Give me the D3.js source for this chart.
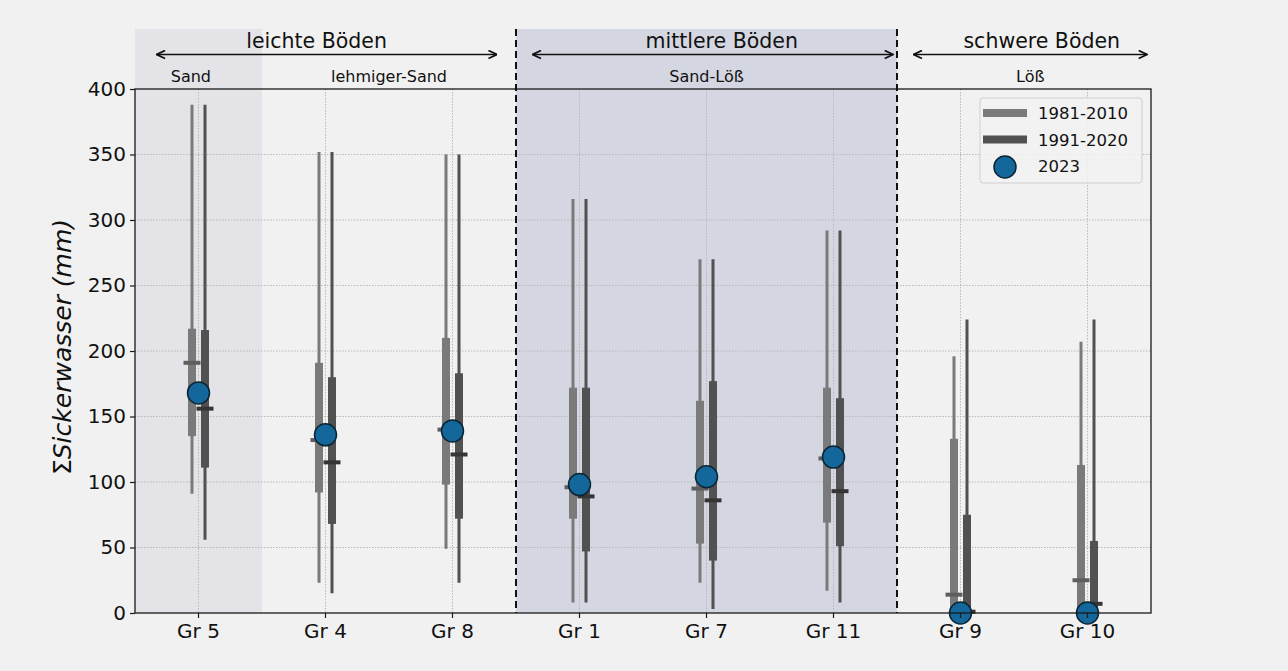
<!DOCTYPE html>
<html><head><meta charset="utf-8">
<script src="https://cdn.jsdelivr.net/npm/d3@7"></script>
<style>
html,body{margin:0;padding:0;background:#f1f1f1;}
svg{display:block;font-family:"DejaVu Sans",sans-serif;}
</style></head>
<body><svg id="c" width="1288" height="671"></svg>
<script>
// ---- data ----
const categories = ["Gr 5","Gr 4","Gr 8","Gr 1","Gr 7","Gr 11","Gr 9","Gr 10"];
// 1981-2010
const a_min = [91, 23, 49, 8, 23, 17, 0, 0];
const a_q1  = [135, 92, 98, 72, 53, 69, 0, 0];
const a_med = [191, 132, 140, 96, 95, 118, 14, 25];
const a_q3  = [217, 191, 210, 172, 162, 172, 133, 113];
const a_max = [388, 352, 350, 316, 270, 292, 196, 207];
// 1991-2020
const b_min = [56, 15, 23, 8, 3, 8, 0, 0];
const b_q1  = [111, 68, 72, 47, 40, 51, 0, 0];
const b_med = [156, 115, 121, 89, 86, 93, 1, 7];
const b_q3  = [216, 180, 183, 172, 177, 164, 75, 55];
const b_max = [388, 352, 350, 316, 270, 292, 224, 224];
// 2023
const obs2023 = [168, 136, 139, 98, 104, 119, 0, 0];
const yTicks = [0, 50, 100, 150, 200, 250, 300, 350, 400];
const seriesNames = ["1981-2010", "1991-2020", "2023"];
// soil groups (category index ranges) and annotation text
const groupNames = ["leichte Böden", "mittlere Böden", "schwere Böden"];
const groupArrowFrom = [-0.33, 2.63, 5.63];
const groupArrowTo   = [2.35, 5.47, 7.47];
const groupTextAt    = [0.93, 4.12, 6.64];
const subNames = ["Sand", "lehmiger-Sand", "Sand-Löß", "Löß"];
const subAt    = [-0.06, 1.5, 4.0, 6.55];
const dividers = [2.5, 5.5];

// ---- layout ----
const svg = d3.select("#c");
const L = 135, R = 1151, T = 89, B = 613, topShade = 29;
const x = d3.scaleBand().domain(categories).range([L, R]).paddingInner(0).paddingOuter(0);
const step = x.step();
const xi = v => L + step * (v + 0.5); // numeric index -> px
const y = d3.scaleLinear().domain([0, 400]).range([B, T]);

const colA = "#7a7a7a", colB = "#515151";
const medA = "#5e5e5e", medB = "#353535";
const dot = "#13679b";

svg.append("rect").attr("width",1288).attr("height",671).attr("fill","#f1f1f1");

// shaded regions
svg.append("rect").attr("x", xi(-0.5)).attr("y", topShade).attr("width", xi(0.5)-xi(-0.5)).attr("height", B-topShade).attr("fill","#e3e3e8");
svg.append("rect").attr("x", xi(2.5)).attr("y", topShade).attr("width", xi(5.5)-xi(2.5)).attr("height", B-topShade).attr("fill","#d4d6e1");

// grid
const g = svg.append("g");
g.selectAll(".gy").data(yTicks.filter(t=>t>0&&t<400)).join("line")
  .attr("x1",L).attr("x2",R).attr("y1",d=>y(d)).attr("y2",d=>y(d))
  .attr("stroke","#b8b8b8").attr("stroke-width",1).attr("stroke-dasharray","1.5,1.5");
g.selectAll(".gx").data(categories).join("line")
  .attr("x1",d=>x(d)+step/2).attr("x2",d=>x(d)+step/2).attr("y1",T).attr("y2",B)
  .attr("stroke","#b8b8b8").attr("stroke-width",1).attr("stroke-dasharray","1.5,1.5");

// boxes
const off = 6.5;
function drawSeries(mins, q1, med, q3, maxs, dx, col, mcol){
  const gg = svg.append("g");
  categories.forEach((c,i)=>{
    const cx = x(c) + step/2 + dx;
    gg.append("line").attr("x1",cx).attr("x2",cx).attr("y1",y(mins[i])).attr("y2",y(maxs[i]))
      .attr("stroke",col).attr("stroke-width",3);
    gg.append("rect").attr("x",cx-4).attr("width",8).attr("y",y(q3[i])).attr("height",y(q1[i])-y(q3[i]))
      .attr("fill",col);
    gg.append("rect").attr("x",cx-8.5).attr("width",17).attr("y",y(med[i])-2).attr("height",4)
      .attr("fill",mcol);
  });
}
drawSeries(a_min,a_q1,a_med,a_q3,a_max,-off,colA,medA);
drawSeries(b_min,b_q1,b_med,b_q3,b_max,off,colB,medB);

// 2023 points
svg.append("g").selectAll("circle").data(obs2023).join("circle")
  .attr("cx",(d,i)=>x(categories[i])+step/2).attr("cy",d=>y(d)).attr("r",11)
  .attr("fill",dot).attr("stroke","#0c2533").attr("stroke-width",1.5);

// frame
svg.append("rect").attr("x",L).attr("y",T).attr("width",R-L).attr("height",B-T)
  .attr("fill","none").attr("stroke","#1a1a1a").attr("stroke-width",1.3);

// dashed dividers
svg.selectAll(".dv").data(dividers).join("line")
  .attr("x1",d=>xi(d)).attr("x2",d=>xi(d)).attr("y1",topShade).attr("y2",B)
  .attr("stroke","#111").attr("stroke-width",2).attr("stroke-dasharray","7,4");

// axes
const yAxis = d3.axisLeft(y).tickValues(yTicks).tickSize(5).tickPadding(4);
const ya = svg.append("g").attr("transform",`translate(${L},0)`).call(yAxis);
ya.select(".domain").remove();
ya.selectAll("text").attr("font-size",20).attr("fill","#111").attr("font-family","DejaVu Sans");
ya.selectAll("line").attr("stroke","#1a1a1a").attr("stroke-width",1.2);

const xAxis = d3.axisBottom(x).tickSize(5).tickPadding(6);
const xa = svg.append("g").attr("transform",`translate(0,${B})`).call(xAxis);
xa.select(".domain").remove();
xa.selectAll("text").attr("font-size",20).attr("fill","#111").attr("font-family","DejaVu Sans");
xa.selectAll("line").attr("stroke","#1a1a1a").attr("stroke-width",1.2);

// y label
const yl = svg.append("text").attr("transform",`translate(71,347) rotate(-90)`)
  .attr("text-anchor","middle").attr("font-size",25).attr("fill","#111");
yl.append("tspan").text("Σ");
yl.append("tspan").attr("font-style","italic").text("Sickerwasser (mm)");

// arrows & group labels
const defs = svg.append("defs");
defs.append("marker").attr("id","ah").attr("viewBox","0 0 10 10").attr("refX",9.5).attr("refY",5)
  .attr("markerWidth",10).attr("markerHeight",10).attr("markerUnits","userSpaceOnUse").attr("orient","auto-start-reverse")
  .append("path").attr("d","M1,1 L9.5,5 L1,9").attr("fill","none").attr("stroke","#111").attr("stroke-width",1.8);
groupNames.forEach((n,i)=>{
  svg.append("line").attr("x1",xi(groupArrowFrom[i])).attr("x2",xi(groupArrowTo[i])).attr("y1",54.5).attr("y2",54.5)
    .attr("stroke","#111").attr("stroke-width",1.5).attr("marker-start","url(#ah)").attr("marker-end","url(#ah)");
  svg.append("text").attr("x",xi(groupTextAt[i])).attr("y",48).attr("text-anchor","middle")
    .attr("font-size",20.5).attr("fill","#111").text(n);
});
subNames.forEach((n,i)=>{
  svg.append("text").attr("x",xi(subAt[i])).attr("y",82).attr("text-anchor","middle")
    .attr("font-size",16).attr("fill","#111").text(n);
});

// legend
const lg = svg.append("g");
lg.append("rect").attr("x",980).attr("y",98).attr("width",162).attr("height",85).attr("rx",3)
  .attr("fill","#f2f2f2").attr("fill-opacity",0.85).attr("stroke","#cfcfcf").attr("stroke-width",1);
const legCols = [colA, colB];
[0,1].forEach(i=>{
  lg.append("rect").attr("x",983).attr("y",109+i*26.5).attr("width",44).attr("height",8).attr("fill",legCols[i]);
});
lg.append("circle").attr("cx",1005).attr("cy",167).attr("r",11).attr("fill",dot).attr("stroke","#0c2533").attr("stroke-width",1.5);
seriesNames.forEach((n,i)=>{
  lg.append("text").attr("x",1038).attr("y",119+i*26.5).attr("font-size",16.5).attr("fill","#111").text(n);
});
</script>
</body></html>
